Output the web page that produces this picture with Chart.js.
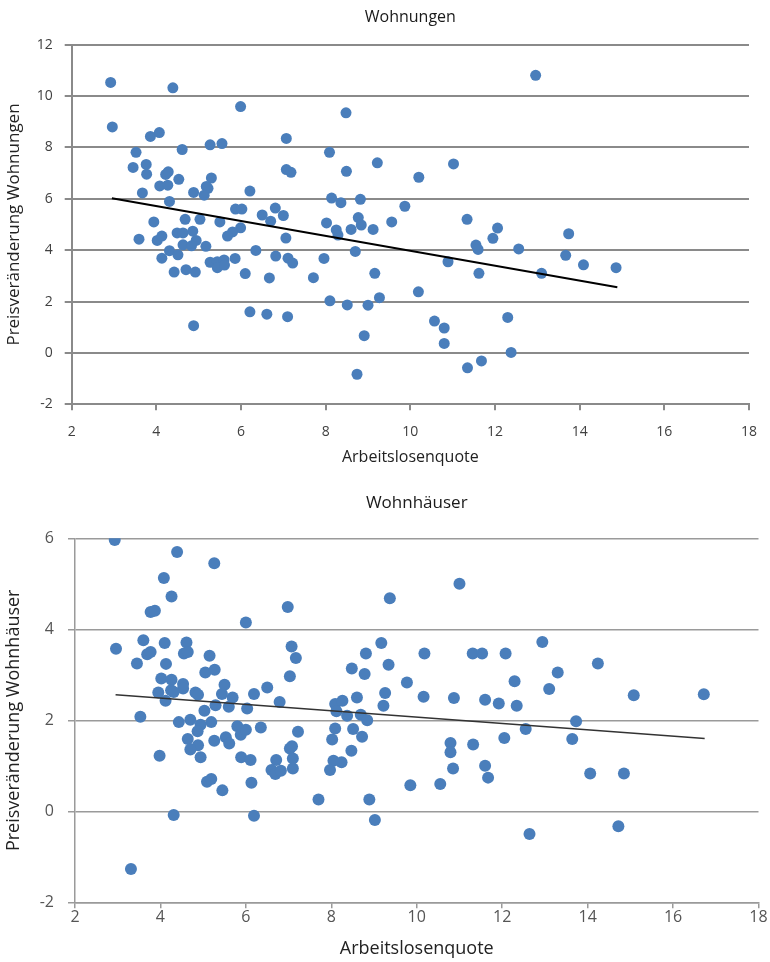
<!DOCTYPE html>
<html>
<head>
<meta charset="utf-8">
<script src="https://cdn.jsdelivr.net/npm/chart.js@4"></script>
<style>
    body { margin: 0; background: #fff; }
    .box { position: absolute; left: 0; width: 770px; }
    #wrapTop { top: 0; height: 475px; }
    #wrapBottom { top: 480px; height: 482px; }
</style>
</head>
<body>
<div class="box" id="wrapTop"><canvas id="chartTop"></canvas></div>
<div class="box" id="wrapBottom"><canvas id="chartBottom"></canvas></div>
<script>
// Wohnungen: Arbeitslosenquote (x) vs Preisveränderung (y)
const wohnungenX = [2.92, 4.39, 5.99, 2.96, 3.86, 4.07, 3.52, 4.61, 5.27, 5.55, 7.07, 3.45, 3.76, 3.77, 4.22, 4.28,
    4.53, 4.08, 4.27, 5.30, 5.18, 5.22, 4.88, 5.13, 6.21, 3.67, 4.31, 5.87, 6.02, 6.50, 6.81, 7.00, 6.70, 3.94,
    4.68, 5.03, 5.50, 5.99, 5.80, 5.68, 7.07, 7.18, 3.59, 4.02, 4.13, 4.49, 4.63, 4.86, 4.94, 4.63, 4.83, 5.17,
    4.31, 4.51, 4.13, 6.35, 7.06, 5.27, 5.44, 5.60, 5.44, 5.61, 5.86, 6.82, 7.11, 7.22, 4.42, 4.70, 4.92, 6.10,
    6.67, 7.71, 6.21, 6.61, 7.10, 4.88, 12.96, 8.48, 8.09, 8.49, 9.22, 11.02, 10.20, 8.14, 8.36, 8.82, 9.87,
    8.77, 8.84, 8.02, 11.34, 12.06, 8.25, 8.29, 8.60, 9.12, 9.56, 11.55, 11.60, 11.95, 12.56, 13.10, 7.96, 8.70,
    10.89, 11.62, 9.16, 8.10, 8.51, 9.00, 9.27, 10.19, 8.91, 8.74, 10.57, 10.80, 10.80, 12.30, 12.38, 11.35,
    11.68, 13.74, 13.67, 14.09, 14.86];
const wohnungenY = [10.53, 10.32, 9.59, 8.80, 8.43, 8.58, 7.81, 7.92, 8.10, 8.15, 8.35, 7.22, 7.34, 6.96, 6.95, 7.05,
    6.76, 6.50, 6.53, 6.81, 6.48, 6.41, 6.25, 6.14, 6.30, 6.23, 5.90, 5.60, 5.60, 5.37, 5.64, 5.35, 5.13, 5.10,
    5.20, 5.20, 5.10, 4.87, 4.71, 4.55, 7.14, 7.03, 4.43, 4.38, 4.55, 4.67, 4.67, 4.74, 4.38, 4.21, 4.17, 4.15,
    3.98, 3.82, 3.69, 3.99, 4.47, 3.53, 3.55, 3.62, 3.32, 3.42, 3.68, 3.77, 3.69, 3.50, 3.15, 3.24, 3.15, 3.09,
    2.92, 2.93, 1.60, 1.51, 1.41, 1.06, 10.81, 9.35, 7.81, 7.07, 7.40, 7.36, 6.84, 6.03, 5.85, 5.98, 5.71,
    5.27, 4.98, 5.06, 5.20, 4.86, 4.79, 4.59, 4.81, 4.81, 5.10, 4.20, 4.03, 4.46, 4.05, 3.10, 3.68, 3.95,
    3.55, 3.10, 3.10, 2.03, 1.87, 1.86, 2.15, 2.38, 0.67, -0.83, 1.24, 0.97, 0.37, 1.38, 0.02, -0.58,
    -0.31, 4.64, 3.80, 3.43, 3.32];
const wohnungenTrendX = [2.95, 14.89];
const wohnungenTrendY = [6.02, 2.56];

// Wohnhäuser
const haeuserX = [2.93, 4.39, 5.26, 4.08, 4.26, 3.77, 3.87, 6.98, 6.00, 2.96, 3.60, 4.10, 4.61, 3.69, 3.77, 4.55,
    4.64, 5.15, 3.45, 4.13, 5.05, 5.27, 7.07, 7.17, 7.03, 4.02, 4.26, 4.53, 4.53, 4.25, 4.31, 3.95, 4.12, 4.82,
    4.88, 5.50, 5.44, 5.69, 6.19, 6.50, 6.79, 5.29, 5.60, 6.03, 5.03, 3.53, 4.43, 4.70, 5.19, 4.94, 4.87, 5.80,
    5.88, 6.00, 6.35, 7.22, 4.64, 4.88, 4.70, 5.26, 5.53, 5.61, 7.03, 7.08, 4.94, 3.98, 5.89, 6.11, 6.71, 7.10,
    7.10, 6.60, 6.69, 6.82, 5.09, 5.19, 6.13, 5.45, 4.31, 6.19, 3.31, 11.00, 9.37, 9.17, 8.81, 10.18, 11.31,
    11.53, 12.08, 12.94, 8.48, 8.78, 9.34, 9.77, 12.29, 13.10, 13.30, 8.09, 8.26, 8.60, 9.26, 9.22, 10.16,
    10.87, 11.60, 11.92, 12.34, 8.12, 8.37, 8.69, 8.84, 8.09, 8.51, 8.02, 8.72, 8.47, 8.05, 8.24, 7.97, 7.70,
    8.89, 9.02, 9.85, 10.55, 10.79, 10.79, 10.85, 11.32, 11.60, 11.67, 12.05, 12.55, 12.64, 14.24, 15.08,
    16.72, 13.73, 13.64, 14.06, 14.85, 14.72];
const haeuserY = [5.96, 5.70, 5.45, 5.13, 4.72, 4.38, 4.41, 4.49, 4.15, 3.57, 3.76, 3.70, 3.71, 3.45, 3.50, 3.47,
    3.50, 3.42, 3.25, 3.24, 3.05, 3.11, 3.62, 3.37, 2.97, 2.92, 2.89, 2.80, 2.70, 2.66, 2.62, 2.61, 2.43, 2.61,
    2.56, 2.78, 2.58, 2.50, 2.58, 2.72, 2.40, 2.33, 2.30, 2.26, 2.21, 2.08, 1.96, 2.01, 1.96, 1.90, 1.76, 1.87,
    1.68, 1.79, 1.84, 1.75, 1.59, 1.45, 1.36, 1.55, 1.63, 1.49, 1.38, 1.43, 1.19, 1.22, 1.19, 1.13, 1.13, 1.16,
    0.94, 0.91, 0.82, 0.89, 0.65, 0.71, 0.63, 0.46, -0.08, -0.10, -1.27, 5.00, 4.68, 3.70, 3.47, 3.47, 3.47,
    3.47, 3.47, 3.72, 3.14, 3.02, 3.22, 2.83, 2.86, 2.69, 3.05, 2.36, 2.43, 2.50, 2.60, 2.32, 2.52,
    2.49, 2.45, 2.37, 2.32, 2.20, 2.10, 2.12, 2.00, 1.82, 1.81, 1.58, 1.64, 1.33, 1.11, 1.08, 0.91, 0.26,
    0.26, -0.19, 0.57, 0.60, 1.50, 1.30, 0.94, 1.47, 1.00, 0.74, 1.61, 1.81, -0.50, 3.25, 2.55,
    2.57, 1.98, 1.59, 0.83, 0.83, -0.33];
const haeuserTrendX = [2.95, 16.74];
const haeuserTrendY = [2.56, 1.60];

// axis ranges / tick labels
const xTicks = [2, 4, 6, 8, 10, 12, 14, 16, 18];
const wohnungenYTicks = [-2, 0, 2, 4, 6, 8, 10, 12];
const haeuserYTicks = [-2, 0, 2, 4, 6];

const FONT = "'Open Sans', 'Liberation Sans', sans-serif";

function toPoints(xs, ys) {
    return xs.map((x, i) => ({ x: x, y: ys[i] }));
}

function buildChart(canvasId, cfg) {
    const ctx = document.getElementById(canvasId).getContext('2d');
    return new Chart(ctx, {
        type: 'scatter',
        data: {
            datasets: [
                {
                    type: 'line',
                    data: toPoints(cfg.trendX, cfg.trendY),
                    borderColor: cfg.trendColor,
                    borderWidth: cfg.trendWidth,
                    pointRadius: 0,
                    fill: false
                },
                {
                    data: toPoints(cfg.xs, cfg.ys),
                    backgroundColor: '#4a7ebb',
                    borderColor: '#4a7ebb',
                    borderWidth: 0,
                    pointRadius: cfg.pointRadius
                }
            ]
        },
        options: {
            responsive: true,
            maintainAspectRatio: false,
            animation: false,
            layout: { padding: { top: 0, right: cfg.padRight, bottom: 0, left: 0 } },
            plugins: {
                legend: { display: false },
                tooltip: { enabled: false },
                title: {
                    display: true,
                    fullSize: false, // center over the plot, not the canvas
                    text: cfg.title,
                    color: '#1a1a1a',
                    font: { family: FONT, size: cfg.titleSize, weight: 'normal' },
                    padding: cfg.titlePad
                }
            },
            scales: {
                x: {
                    type: 'linear',
                    min: xTicks[0], max: xTicks[xTicks.length - 1],
                    afterBuildTicks: (s) => { s.ticks = xTicks.map(v => ({ value: v })); },
                    afterFit: (s) => { s.height = cfg.xHeight; },
                    grid: { drawOnChartArea: false, color: cfg.gridColor, lineWidth: cfg.gridWidth, tickLength: 6 },
                    border: { color: cfg.gridColor, width: cfg.gridWidth },
                    ticks: { color: cfg.tickColor, font: { family: FONT, size: cfg.tickSize }, padding: cfg.xTickPad },
                    title: {
                        display: true, text: 'Arbeitslosenquote', color: '#222',
                        font: { family: FONT, size: cfg.axisTitleSize }, padding: { top: 0, bottom: cfg.xTitlePad }
                    }
                },
                y: {
                    type: 'linear',
                    min: cfg.yTicks[0], max: cfg.yTicks[cfg.yTicks.length - 1],
                    afterBuildTicks: (s) => { s.ticks = cfg.yTicks.map(v => ({ value: v })); },
                    afterFit: (s) => { s.width = cfg.yWidth; },
                    grid: { color: cfg.gridColor, lineWidth: cfg.gridWidth, tickLength: 7 },
                    border: { color: cfg.gridColor, width: cfg.gridWidth },
                    ticks: { color: cfg.tickColor, font: { family: FONT, size: cfg.tickSize }, padding: cfg.yTickPad },
                    title: {
                        display: true, text: cfg.yTitle, color: '#222',
                        font: { family: FONT, size: cfg.yTitleSize }, padding: { top: cfg.yTitlePad, bottom: 0 }
                    }
                }
            }
        }
    });
}

buildChart('chartTop', {
    title: 'Wohnungen',
    yTitle: 'Preisveränderung Wohnungen',
    xs: wohnungenX, ys: wohnungenY,
    trendX: wohnungenTrendX, trendY: wohnungenTrendY,
    trendColor: '#000', trendWidth: 2,
    yTicks: wohnungenYTicks,
    pointRadius: 5.5,
    gridColor: '#8a8a8a', gridWidth: 2,
    tickColor: '#404040', tickSize: 14, axisTitleSize: 16, yTitleSize: 17, titleSize: 16,
    titlePad: { top: 8, bottom: 17.5 },
    padRight: 16,
    xHeight: 70.7, yWidth: 71.7,
    xTickPad: 13, xTitlePad: 8, yTitlePad: 4, yTickPad: 12
});

buildChart('chartBottom', {
    title: 'Wohnhäuser',
    yTitle: 'Preisveränderung Wohnhäuser',
    xs: haeuserX, ys: haeuserY,
    trendX: haeuserTrendX, trendY: haeuserTrendY,
    trendColor: '#333', trendWidth: 1.5,
    yTicks: haeuserYTicks,
    pointRadius: 6,
    gridColor: '#9a9a9a', gridWidth: 1.5,
    tickColor: '#555', tickSize: 16, axisTitleSize: 18, yTitleSize: 18, titleSize: 17,
    titlePad: { top: 12.5, bottom: 25.4 },
    padRight: 11.5,
    xHeight: 59.7, yWidth: 75,
    xTickPad: 0, xTitlePad: 2, yTitlePad: 3, yTickPad: 14
});
</script>
</body>
</html>
